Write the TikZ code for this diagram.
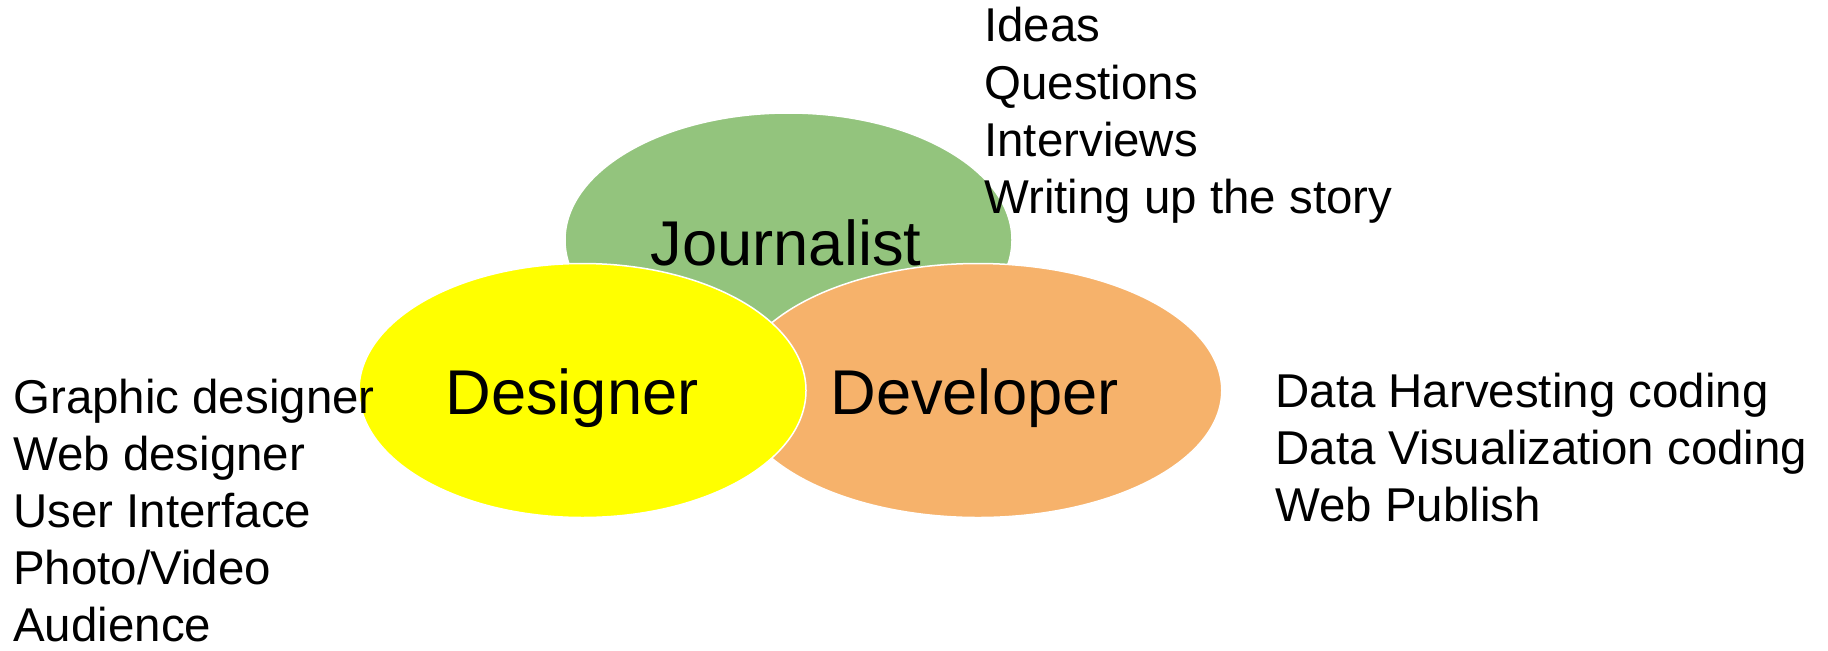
\documentclass[tikz,border=0pt]{standalone}
\usepackage{fontspec}
\setmainfont{Liberation Sans}
\usetikzlibrary{shapes.geometric, positioning}
\definecolor{jGreen}{HTML}{93C47D}
\definecolor{dYellow}{HTML}{FFFF00}
\definecolor{dOrange}{HTML}{F6B26B}
\tikzstyle{roleNode} = [ellipse, minimum width=89.4mm, minimum height=50.8mm, inner sep=0, draw=white, line width=0.3mm]
\tikzstyle{roleNodeG} = [roleNode, fill=jGreen]
\tikzstyle{roleNodeY} = [roleNode, fill=dYellow]
\tikzstyle{roleNodeO} = [roleNode, fill=dOrange, minimum width=97.5mm]
\tikzstyle{roleText} = [inner sep=0, anchor=base, font=\fontsize{36}{43}\selectfont]
\tikzstyle{listNode} = [inner sep=0, align=left, anchor=base west, font=\fontsize{27}{32.5}\selectfont]

\begin{document}
\begin{tikzpicture}[x=0.2mm, y=-0.2mm]
        \useasboundingbox (0,0) rectangle (1828,650);
        \node (journalist) [roleNodeG] at (788.5,240) {};
        \node (developer) [roleNodeO] at (978,390.5) {};
        \node (designer) [roleNodeY] at (582.5,390.5) {};

        \node (jText) [roleText] at (786,265) {Journalist};
        \node (dsText) [roleText] at (572,414) {Designer};
        \node (dvText) [roleText] at (974.5,414) {Developer};

        % anchor is on the baseline of the last line
        \node (jTasks) [listNode] at (984,213.3) {Ideas\\Questions\\Interviews\\Writing up the story};
        \node (dsTasks) [listNode] at (13,641.7) {Graphic designer\\Web designer\\User Interface\\Photo/Video\\Audience};
        \node (dvTasks) [listNode] at (1275,521.7) {Data Harvesting coding\\Data Visualization coding\\Web Publish};
    \end{tikzpicture}
\end{document}
